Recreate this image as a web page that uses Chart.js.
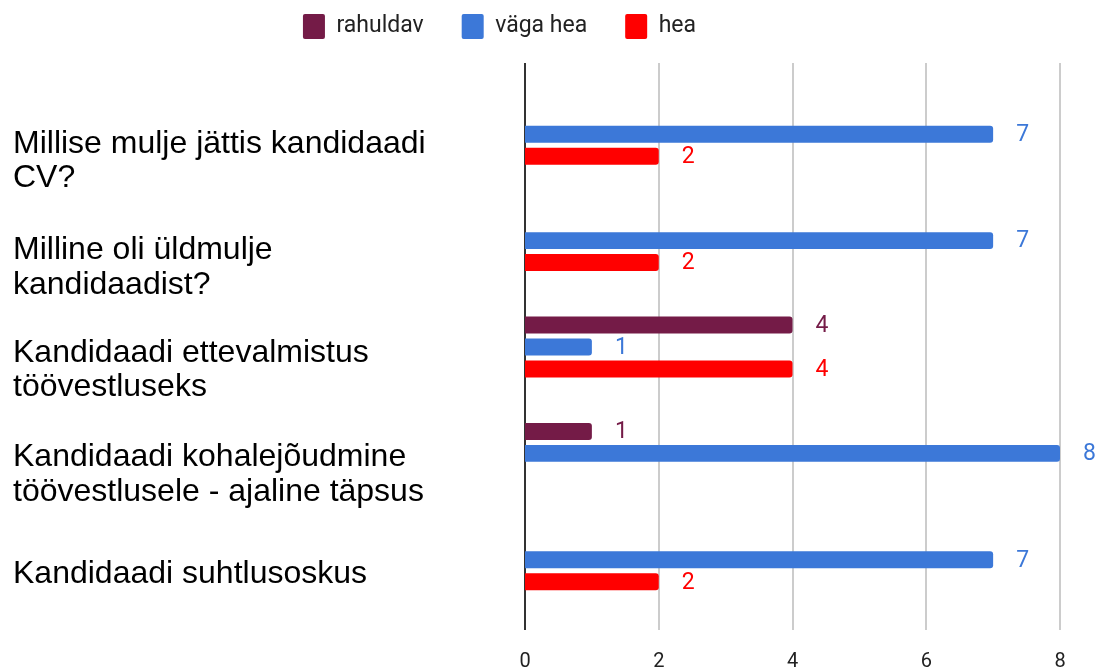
<!DOCTYPE html>
<html>
<head>
<meta charset="utf-8">
<script src="https://cdn.jsdelivr.net/npm/chart.js@4"></script>
<style>
  body { margin: 0; background: #fff; }
  #wrap { width: 1098px; height: 670px; position: relative; }
</style>
</head>
<body>
<div id="wrap"><canvas id="grafico"></canvas></div>
<script>
// andmed
const categories = [
    ['Millise mulje jättis kandidaadi', 'CV?'],
    ['Milline oli üldmulje', 'kandidaadist?'],
    ['Kandidaadi ettevalmistus', 'töövestluseks'],
    ['Kandidaadi kohalejõudmine', 'töövestlusele - ajaline täpsus'],
    'Kandidaadi suhtlusoskus'
];
const rahuldav = [null, null, 4, 1, null];
const vagaHea = [7, 7, 1, 8, 7];
const hea = [2, 2, 4, null, 2];
const xMax = 8;
const xStep = 2;

const colors = ['#741b47', '#3c78d8', '#ff0000'];
// vertical nudge of each category label (px), Sheets does not center them exactly
const labelNudge = [27, 27, 23, 21, 14];

// grid lines reach past the plot area like in the original
const gridPlugin = {
    id: 'gridPlugin',
    beforeDatasetsDraw(chart) {
        const ctx = chart.ctx;
        const x = chart.scales.x;
        ctx.save();
        x.ticks.forEach(t => {
            const px = Math.round(x.getPixelForValue(t.value));
            ctx.beginPath();
            ctx.moveTo(px, 63);
            ctx.lineTo(px, 630);
            ctx.strokeStyle = t.value === 0 ? '#333' : '#cccccc';
            ctx.lineWidth = 2;
            ctx.stroke();
        });
        ctx.restore();
    }
};

// value labels at the bar ends
const valuePlugin = {
    id: 'valuePlugin',
    afterDatasetsDraw(chart) {
        const ctx = chart.ctx;
        ctx.save();
        ctx.font = '23px Roboto';
        ctx.textAlign = 'left';
        ctx.textBaseline = 'middle';
        chart.data.datasets.forEach((ds, i) => {
            const meta = chart.getDatasetMeta(i);
            meta.data.forEach((bar, j) => {
                const v = ds.data[j];
                if (v === null || v === undefined) return;
                ctx.fillStyle = ds.backgroundColor;
                ctx.fillText(String(v), bar.x + 23, bar.y + 1);
            });
        });
        ctx.restore();
    }
};

// move legend up / left after layout, nudge y labels
const layoutFix = {
    id: 'layoutFix',
    afterLayout(chart) {
        const lg = chart.legend;
        lg.top -= 32; lg.bottom -= 32;
        lg.left -= 37; lg.right -= 37;
    },
    beforeDraw(chart) {
        const y = chart.scales.y;
        if (y._nudged) return;
        const items = y.getLabelItems(chart.chartArea);
        items.forEach((it, i) => { it.options.translation[1] += labelNudge[i] || 0; });
        y._nudged = true;
    }
};

const ctx = document.getElementById('grafico').getContext('2d');
const chartInstance = new Chart(ctx, {
    type: 'bar',
    data: {
        labels: categories,
        datasets: [
            { label: 'rahuldav', data: rahuldav, backgroundColor: colors[0] },
            { label: 'väga hea', data: vagaHea, backgroundColor: colors[1] },
            { label: 'hea', data: hea, backgroundColor: colors[2] }
        ]
    },
    options: {
        indexAxis: 'y',
        responsive: true,
        maintainAspectRatio: false,
        animation: false,
        categoryPercentage: 0.62,
        barPercentage: 0.77,
        borderRadius: 3,
        layout: { padding: { left: 13, right: 38, top: 8, bottom: 0 } },
        plugins: {
            legend: {
                position: 'top',
                labels: {
                    boxWidth: 22,
                    boxHeight: 25,
                    padding: 38,
                    color: '#222',
                    font: { family: 'Roboto', size: 23 },
                    useBorderRadius: true,
                    borderRadius: 2
                }
            },
            tooltip: { enabled: false }
        },
        scales: {
            x: {
                min: 0,
                max: xMax,
                grid: { display: false, drawTicks: true, tickLength: 34 },
                border: { display: false },
                ticks: {
                    stepSize: xStep,
                    color: '#222',
                    padding: 3,
                    font: { family: 'Roboto', size: 20 }
                },
                afterFit(scale) { scale.height = 57; }
            },
            y: {
                grid: { display: false, drawTicks: false },
                border: { display: false },
                ticks: {
                    crossAlign: 'far',
                    color: '#000',
                    labelOffset: 0,
                    font: { family: 'Liberation Sans', size: 32, lineHeight: 1.08 }
                },
                afterFit(scale) { scale.width = 512; }
            }
        }
    },
    plugins: [gridPlugin, valuePlugin, layoutFix]
});
</script>
</body>
</html>
